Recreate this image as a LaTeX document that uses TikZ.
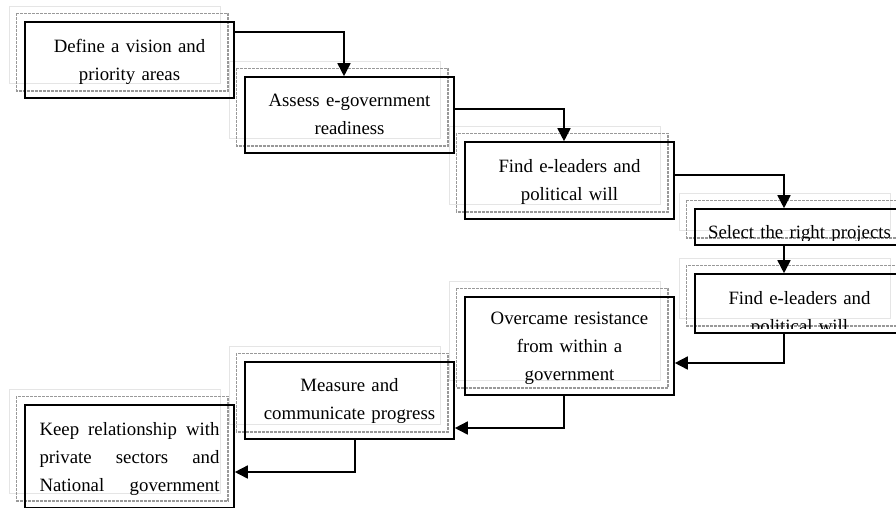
\documentclass[tikz,border=0pt]{standalone}
\usepackage{fontspec}
\setmainfont{Liberation Serif}
\usetikzlibrary{arrows.meta,positioning,calc,backgrounds}

\begin{document}
\begin{tikzpicture}[x=1pt, y=-1pt,
  box/.style={rectangle, draw, line width=1.6pt, minimum width=209pt, inner sep=0pt},
  boxtext/.style={text width=200pt, align=center, inner sep=0pt, anchor=north, font=\fontsize{18.8}{28}\selectfont},
  arrow/.style={-{Triangle[length=13pt, width=13pt]}, line width=1.6pt},
  ghost/.style={draw=black!10, line width=1pt},
  shade/.style={draw=black!40, line width=1.4pt, dash pattern=on 3pt off 1pt},
]
\useasboundingbox (0,0) rectangle (896,507);
\clip (0,0) rectangle (896,507);

% steps, top left to right, then back to the left
\node[box, minimum height=76pt] (b1) at (129.5,60) {};
\node[box, minimum height=76pt] (b2) at (349.5,115) {};
\node[box, minimum height=77pt] (b3) at (569.5,180.5) {};
\node[box, minimum height=36pt] (b4) at (799.5,227) {};
\node[box, minimum height=59pt] (b5) at (799.5,303.5) {};
\node[box, minimum height=98pt] (b6) at (569.5,346) {};
\node[box, minimum height=77pt] (b7) at (349.5,400.5) {};
\node[box, minimum height=103pt] (b8) at (129.5,456.5) {};

\node[boxtext] (t1) at ([yshift=-11pt]b1.north) {\strut Define a vision and\\ priority areas};
\node[boxtext] (t2) at ([yshift=-10.4pt]b2.north) {\strut Assess e-government\\ readiness};
\node[boxtext] (t3) at ([yshift=-11pt]b3.north) {\strut Find e-leaders and\\ political will};
\begin{scope}
  \clip (b4.north west) rectangle ([yshift=5pt]b4.south east);
  \node[boxtext] (t4) at ([yshift=-10.4pt]b4.north) {\strut Select the right projects};
\end{scope}
\begin{scope}
  \clip (b5.north west) rectangle ([yshift=5pt]b5.south east);
  \node[boxtext] (t5) at ([yshift=-11pt]b5.north) {\strut Find e-leaders and\\ political will};
\end{scope}
\node[boxtext] (t6) at ([yshift=-8.4pt]b6.north) {\strut Overcame resistance\\ from within a\\ government};
\node[boxtext] (t7) at ([yshift=-10.4pt]b7.north) {\strut Measure and\\ communicate progress};
\node[boxtext, text width=180pt, align=left] (t8) at ([yshift=-11pt]b8.north) {\strut\makebox[180pt]{Keep\hfill relationship\hfill with}\\
  \makebox[180pt]{private\hfill sectors\hfill and}\\ \makebox[180pt]{National\hfill government}};

% copies behind each step
\begin{scope}[on background layer]
  \foreach \i in {1,...,8} {
    \draw[ghost] ([shift={(-15,-15)}]b\i.north west) rectangle ([shift={(-14,-15)}]b\i.south east);
    \draw[shade] ([shift={(-8,-8)}]b\i.north west) rectangle ([shift={(-7,-8)}]b\i.south east);
  }
\end{scope}

\draw[arrow] ([yshift=-11pt]b1.north east) -| ([xshift=-5.5pt]b2.north);
\draw[arrow] ([yshift=-33pt]b2.north east) -| ([xshift=-5.5pt]b3.north);
\draw[arrow] ([yshift=-34pt]b3.north east) -| ([xshift=-15.5pt]b4.north);
\draw[arrow] ([xshift=-15.5pt]b4.south) -- ([xshift=-15.5pt]b5.north);
\draw[arrow] ([xshift=-15.5pt]b5.south) |- ([yshift=-17pt]b6.east);
\draw[arrow] ([xshift=-5.5pt]b6.south) |- ([yshift=-27.5pt]b7.east);
\draw[arrow] ([xshift=5.5pt]b7.south) |- ([yshift=-15.5pt]b8.east);

\end{tikzpicture}
\end{document}
